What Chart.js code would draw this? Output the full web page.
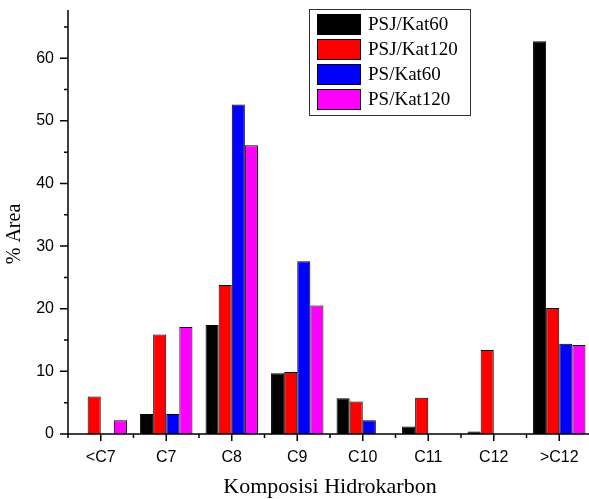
<!DOCTYPE html>
<html>
<head>
<meta charset="utf-8">
<script src="https://cdn.jsdelivr.net/npm/chart.js@4/dist/chart.umd.min.js"></script>
<style>
  html, body { margin: 0; padding: 0; background: #fff; overflow: hidden; width: 589px; height: 499px; }
  canvas { display: block; }
</style>
</head>
<body>
<canvas id="c" width="600" height="499"></canvas>
<script>
const categories = ['<C7', 'C7', 'C8', 'C9', 'C10', 'C11', 'C12', '>C12'];
const seriesNames = ['PSJ/Kat60', 'PSJ/Kat120', 'PS/Kat60', 'PS/Kat120'];
const psjKat60  = [0,   3.2, 17.4, 9.7,  5.7, 1.2, 0.4,  62.7];
const psjKat120 = [6.0, 15.9, 23.8, 9.9, 5.2, 5.8, 13.4, 20.1];
const psKat60   = [0,   3.2, 52.6, 27.6, 2.2, 0,   0,    14.4];
const psKat120  = [2.2, 17.1, 46.1, 20.5, 0,  0,   0,    14.2];
const seriesColors = ['#000000', '#ff0000', '#0000ff', '#ff00ff'];
const yTitle = '% Area';
const xTitle = 'Komposisi Hidrokarbon';
const yMin = 0, yMax = 67.7, yMinorStep = 5, yMajorStep = 10;

const seriesValues = [psjKat60, psjKat120, psKat60, psKat120];

const axesPlugin = {
  id: 'axesPlugin',
  afterDraw(chart) {
    const ctx = chart.ctx;
    const ca = chart.chartArea;
    const xs = chart.scales.x, ys = chart.scales.y;
    ctx.save();
    ctx.strokeStyle = '#000';
    ctx.lineWidth = 1.5;
    ctx.beginPath();
    ctx.moveTo(ca.left, ca.top); ctx.lineTo(ca.left, ca.bottom);
    ctx.moveTo(ca.left - 0.75, ca.bottom); ctx.lineTo(ca.right, ca.bottom);
    ctx.stroke();
    // y ticks
    ctx.beginPath();
    ys.ticks.forEach(t => {
      const y = ys.getPixelForValue(t.value);
      const len = (Math.round(t.value) % yMajorStep === 0) ? 8 : 4;
      ctx.moveTo(ca.left, y); ctx.lineTo(ca.left - len, y);
    });
    // x ticks
    const n = categories.length;
    for (let i = 0; i < n; i++) {
      const cx = xs.getPixelForValue(i);
      ctx.moveTo(cx, ca.bottom); ctx.lineTo(cx, ca.bottom + 7);
      const bx = i === 0 ? ca.left : (cx + xs.getPixelForValue(i - 1)) / 2;
      ctx.moveTo(bx, ca.bottom); ctx.lineTo(bx, ca.bottom + 4);
    }
    ctx.stroke();
    // titles
    ctx.fillStyle = '#000';
    ctx.textAlign = 'center';
    ctx.textBaseline = 'middle';
    ctx.font = '22px "Liberation Serif", "Times New Roman", serif';
    ctx.fillText(xTitle, (ca.left + ca.right) / 2, 487);
    ctx.save();
    ctx.translate(15, 234);
    ctx.rotate(-Math.PI / 2);
    ctx.font = '20px "Liberation Serif", "Times New Roman", serif';
    ctx.fillText(yTitle, 0, 0);
    ctx.restore();
    // legend
    const lx = 309, ly = 9, lw = 161, lh = 106;
    ctx.lineWidth = 1;
    ctx.strokeStyle = '#333';
    ctx.strokeRect(lx + 0.5, ly + 0.5, lw, lh);
    ctx.textAlign = 'left';
    ctx.font = '19px "Liberation Serif", "Times New Roman", serif';
    chart.data.datasets.forEach((ds, i) => {
      const sy = 14 + i * 25;
      ctx.fillStyle = ds.backgroundColor;
      ctx.fillRect(317, sy, 44, 21);
      ctx.strokeStyle = '#000';
      ctx.strokeRect(317.5, sy + 0.5, 43, 20);
      ctx.fillStyle = '#000';
      ctx.fillText(ds.label, 368, sy + 11);
    });
    ctx.restore();
  }
};

new Chart(document.getElementById('c'), {
  type: 'bar',
  data: {
    labels: categories,
    datasets: seriesNames.map((name, i) => ({
      label: name,
      data: seriesValues[i],
      backgroundColor: seriesColors[i],
      borderColor: '#000',
      borderWidth: 1,
      categoryPercentage: 0.8,
      barPercentage: 1.0
    }))
  },
  options: {
    responsive: false,
    animation: false,
    layout: { padding: { top: 10, right: 8, left: 0, bottom: 0 } },
    plugins: { legend: { display: false }, title: { display: false }, tooltip: { enabled: false } },
    scales: {
      x: {
        grid: { display: false, drawTicks: false },
        border: { display: false },
        ticks: {
          color: '#000',
          padding: 14,
          maxRotation: 0,
          autoSkip: false,
          font: { family: '"Liberation Sans", Arial, sans-serif', size: 16 }
        },
        afterFit(scale) { scale.height = 65; scale.paddingLeft = 0; scale.paddingRight = 0; }
      },
      y: {
        min: yMin,
        max: yMax,
        grid: { display: false, drawTicks: false },
        border: { display: false },
        ticks: {
          stepSize: yMinorStep,
          includeBounds: false,
          autoSkip: false,
          color: '#000',
          padding: 14,
          font: { family: '"Liberation Sans", Arial, sans-serif', size: 16 },
          callback: (v) => (Math.round(v) % yMajorStep === 0 ? String(v) : '')
        },
        afterFit(scale) { scale.width = 68; scale.paddingTop = 0; scale.paddingBottom = 0; }
      }
    }
  },
  plugins: [axesPlugin]
});
</script>
</body>
</html>
